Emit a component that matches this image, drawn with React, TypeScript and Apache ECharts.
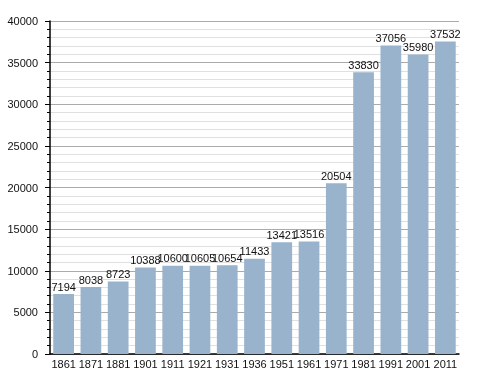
import React, { useEffect, useRef } from "react";
import * as echarts from "echarts";

const categories = ["1861", "1871", "1881", "1901", "1911", "1921", "1931", "1936", "1951", "1961", "1971", "1981", "1991", "2001", "2011"];
const population = [7194, 8038, 8723, 10388, 10600, 10605, 10654, 11433, 13421, 13516, 20504, 33830, 37056, 35980, 37532];

export default function App() {
  const ref = useRef<HTMLDivElement>(null);
  useEffect(() => {
    if (!ref.current) return;
    const chart = echarts.init(ref.current, null, { renderer: "svg" });
    chart.setOption({
      animation: false,
      grid: { left: 50, right: 29, top: 21, bottom: 19 },
      xAxis: {
        type: "category",
        data: categories,
        axisLine: { lineStyle: { color: "#000", width: 1.5 } },
        axisTick: { show: false },
        axisLabel: { color: "#111", fontSize: 11, fontFamily: "Liberation Sans", margin: 4, interval: 0 },
      },
      yAxis: {
        type: "value",
        min: 0,
        max: 40000,
        interval: 5000,
        axisLine: { show: true, lineStyle: { color: "#000", width: 1.5 } },
        axisTick: { show: true, inside: false, length: 5, lineStyle: { color: "#000" } },
        minorTick: { show: true, splitNumber: 5, length: 3, lineStyle: { color: "#000" } },
        axisLabel: {
          color: "#111",
          fontSize: 11,
          fontFamily: "Liberation Sans",
          margin: 12,
          formatter: (v: number) => String(v),
        },
        splitLine: { lineStyle: { color: "#aaa", width: 1 } },
        minorSplitLine: { show: true, lineStyle: { color: "#e0e0e0", width: 1 } },
      },
      series: [
        {
          type: "bar",
          data: population,
          barWidth: "76%",
          itemStyle: { color: "#99b3cc" },
          label: {
            show: true,
            position: "top",
            distance: 2,
            color: "#111",
            fontSize: 11,
            fontFamily: "Liberation Sans",
          },
        },
      ],
    });
    return () => chart.dispose();
  }, []);
  return <div ref={ref} style={{ position: "fixed", left: 0, top: 0, width: 488, height: 373 }} />;
}
